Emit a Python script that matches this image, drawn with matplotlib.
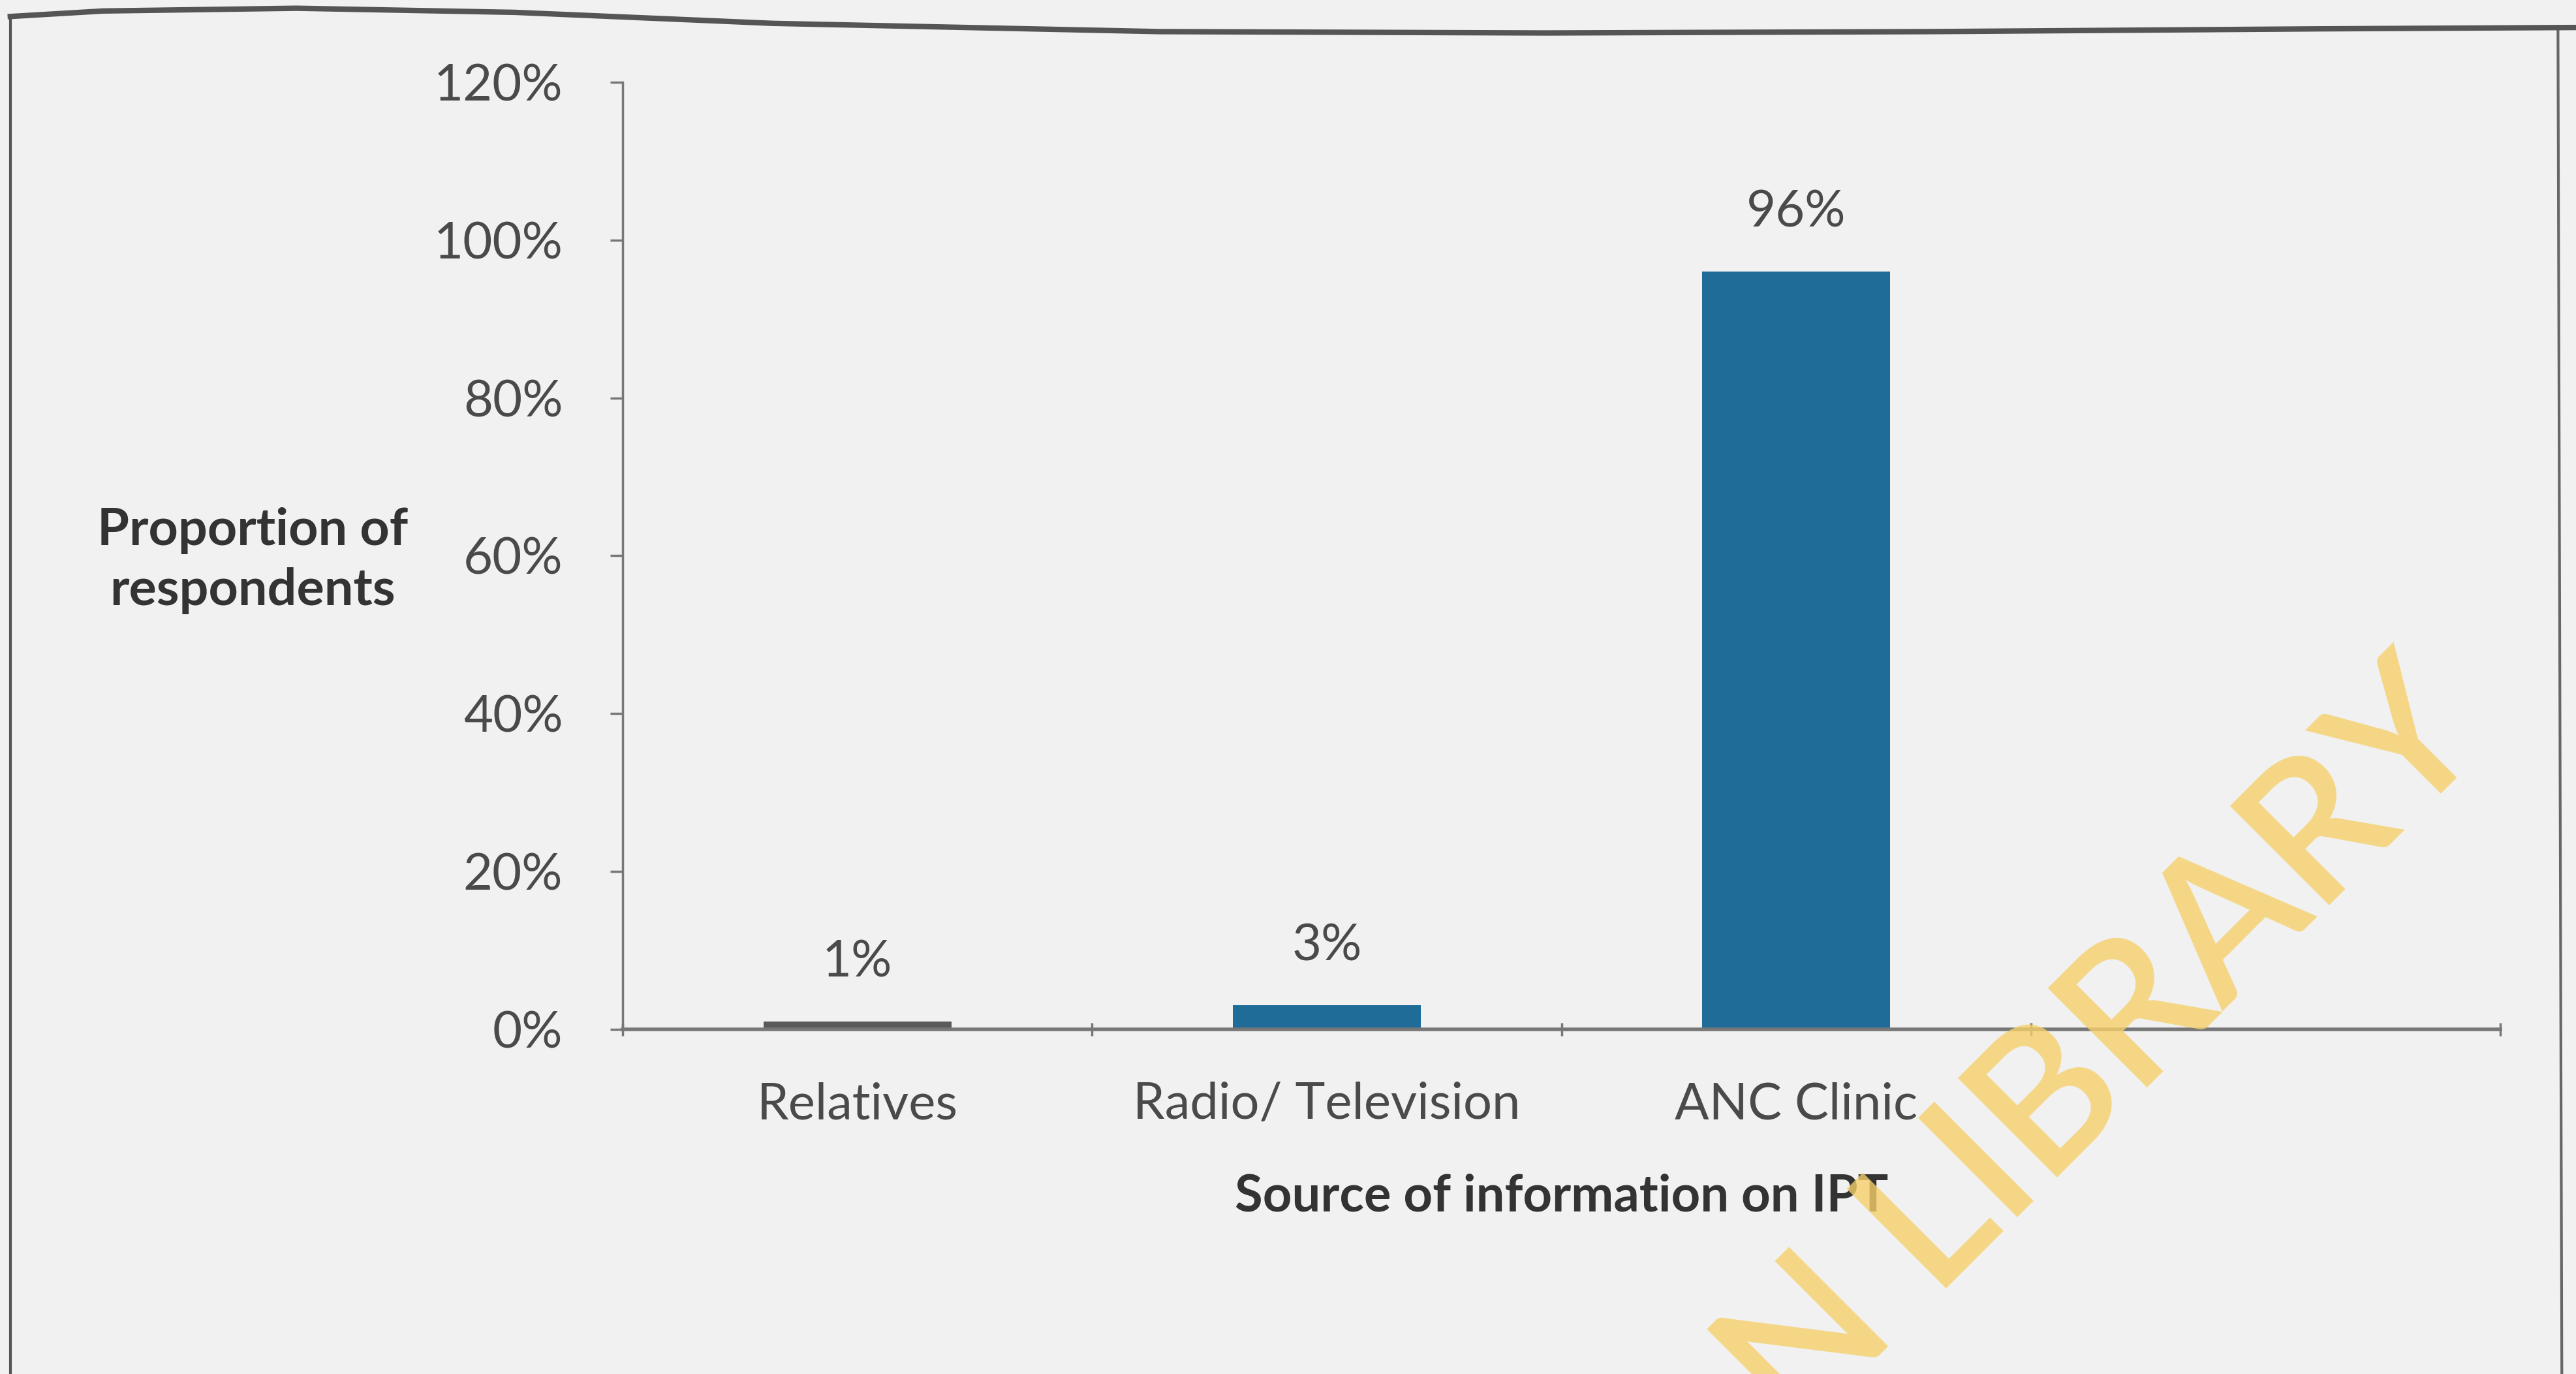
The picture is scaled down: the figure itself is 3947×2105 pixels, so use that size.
import numpy as np
import matplotlib
matplotlib.use("Agg")
import matplotlib.pyplot as plt
from matplotlib.lines import Line2D

plt.rcParams['font.family'] = ['Lato', 'DejaVu Sans']

categories = ['Relatives', 'Radio/ Television', 'ANC Clinic', '']
values = [0.01, 0.03, 0.96, np.nan]
labels = ['1%', '3%', '96%', '']
bar_colors = ['#5a5a5a', '#1f6c99', '#1f6c99', '#1f6c99']
yticks = [0, 0.2, 0.4, 0.6, 0.8, 1.0, 1.2]

bg = '#f1f1f1'
txt = '#4a4a4a'

fig = plt.figure(figsize=(39.47, 21.05), dpi=100, facecolor=bg)
ax = fig.add_axes([0.2417, 0.251, 0.729, 0.689], facecolor=bg)

x = np.arange(len(categories))
ax.bar(x, values, width=0.4, color=bar_colors, zorder=2)

for xi, v, lab in zip(x, values, labels):
    if lab:
        ax.text(xi, v + 0.045, lab, ha='center', va='bottom', fontsize=56, color=txt)

ax.set_xlim(-0.5, len(categories) - 0.5)
ax.set_ylim(0, 1.2)
ax.set_yticks(yticks)
ax.set_yticklabels(['%d%%' % round(t * 100) for t in yticks])
ax.set_xticks(x)
ax.set_xticklabels(categories)
ax.set_xticks(np.arange(-0.5, len(categories)), minor=True)
ax.tick_params(axis='x', which='major', length=0, pad=58, labelsize=56, labelcolor=txt)
ax.tick_params(axis='x', which='minor', length=14, width=2.5, direction='inout', color='#777')
ax.tick_params(axis='y', length=14, width=2.5, direction='out', color='#777', pad=52,
               labelsize=56, labelcolor=txt)

for s in ['top', 'right']:
    ax.spines[s].set_visible(False)
ax.spines['left'].set_color('#777')
ax.spines['left'].set_linewidth(2.5)
ax.spines['bottom'].set_color('#777')
ax.spines['bottom'].set_linewidth(4)

ax.set_xlabel('Source of information on IPT', fontsize=56, fontweight='bold', color='#333', labelpad=50)
fig.text(0.098, 0.592, 'Proportion of\nrespondents', ha='center', va='center', fontsize=57,
         fontweight='bold', color='#333', linespacing=1.35)

# scanned page border
fig.add_artist(Line2D([0.004, 0.004], [0.0, 0.988], transform=fig.transFigure, color='#555', lw=3))
fig.add_artist(Line2D([0.9945, 0.993], [0.0, 0.98], transform=fig.transFigure, color='#666', lw=3))
fig.add_artist(Line2D([0.004, 0.04, 0.115, 0.2, 0.3, 0.45, 0.6, 0.75, 0.9, 1.0],
                      [0.988, 0.992, 0.994, 0.991, 0.983, 0.977, 0.976, 0.977, 0.979, 0.980],
                      transform=fig.transFigure, color='#555', lw=6))

# library watermark
fig.text(0.968, 0.4605, 'AN LIBRARY', ha='right', va='baseline', rotation=45,
         rotation_mode='anchor', fontsize=215, fontweight='semibold',
         color='#f6d06a', alpha=0.8)

fig.savefig('out.png', dpi=100, facecolor=bg)
